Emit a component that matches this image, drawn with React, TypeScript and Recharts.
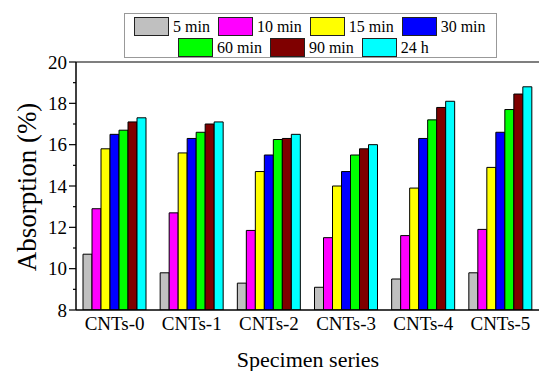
import React from 'react';
import { BarChart, Bar, XAxis, YAxis, ReferenceLine } from 'recharts';

const categories = ['CNTs-0', 'CNTs-1', 'CNTs-2', 'CNTs-3', 'CNTs-4', 'CNTs-5'];
const seriesNames = ['5 min', '10 min', '15 min', '30 min', '60 min', '90 min', '24 h'];
const seriesColors = ['#c0c0c0', '#ff00ff', '#ffff00', '#0000ff', '#00ff00', '#7f0000', '#00ffff'];

const min5 = [10.7, 9.8, 9.3, 9.1, 9.5, 9.8];
const min10 = [12.9, 12.7, 11.85, 11.5, 11.6, 11.9];
const min15 = [15.8, 15.6, 14.7, 14.0, 13.9, 14.9];
const min30 = [16.5, 16.3, 15.5, 14.7, 16.3, 16.6];
const min60 = [16.7, 16.6, 16.25, 15.5, 17.2, 17.7];
const min90 = [17.1, 17.0, 16.3, 15.8, 17.8, 18.45];
const h24 = [17.3, 17.1, 16.5, 16.0, 18.1, 18.8];

const yTicks = [8, 9, 10, 11, 12, 13, 14, 15, 16, 17, 18, 19, 20];

const allSeries = [min5, min10, min15, min30, min60, min90, h24];
const data = categories.map((name, i) => {
  const row: any = { name };
  seriesNames.forEach((s, j) => {
    row[s] = allSeries[j][i];
  });
  return row;
});

const FONT = 'Liberation Serif';

const YTick = ({ x, y, payload }: any) => {
  const major = payload.value % 2 === 0;
  return (
    <g>
      <line x1={x - (major ? 7 : 3)} x2={x} y1={y} y2={y} stroke="#000" strokeWidth={1.2} />
      {major && (
        <text
          x={x - 9}
          y={y}
          dy="0.35em"
          textAnchor="end"
          style={{ fontFamily: FONT, fontSize: 19 }}
          fill="#000"
        >
          {payload.value}
        </text>
      )}
    </g>
  );
};

// legend drawn as html over the chart so it doesn't eat plot space
const LegendBox = () => {
  const item = (i: number) => (
    <div key={i} style={{ display: 'flex', alignItems: 'center', marginRight: 8 }}>
      <div
        style={{
          width: 33,
          height: 17,
          background: seriesColors[i],
          border: '1.2px solid #222',
          marginRight: 4,
        }}
      />
      <span>{seriesNames[i]}</span>
    </div>
  );
  return (
    <div
      style={{
        position: 'absolute',
        left: 124,
        top: 13,
        width: 373,
        height: 45,
        boxSizing: 'border-box',
        border: '1px solid #999',
        background: '#fff',
        fontFamily: FONT,
        fontSize: 16,
        lineHeight: '18px',
        color: '#000',
        paddingTop: 2,
      }}
    >
      <div style={{ display: 'flex', paddingLeft: 9, height: 21 }}>{[0, 1, 2, 3].map(item)}</div>
      <div style={{ display: 'flex', paddingLeft: 53, height: 21 }}>{[4, 5, 6].map(item)}</div>
    </div>
  );
};

export default function App() {
  return (
    <div
      style={{
        position: 'absolute',
        left: 0,
        top: 0,
        width: 539,
        height: 371,
        background: '#fff',
        fontFamily: FONT,
      }}
    >
      <BarChart
        width={539}
        height={371}
        data={data}
        margin={{ top: 62, right: 0, bottom: 0, left: 0 }}
        barCategoryGap={7}
        barGap={0}
        style={{ fontFamily: FONT }}
      >
        <XAxis
          dataKey="name"
          height={61}
          tickLine={false}
          tickSize={0}
          tickMargin={7}
          axisLine={{ stroke: '#000', strokeWidth: 1.5 }}
          tick={{ fontFamily: FONT, fontSize: 19, fill: '#000' }}
          interval={0}
          label={{
            content: ({ viewBox }: any) => (
              <text
                x={308}
                y={viewBox.y + 57}
                textAnchor="middle"
                style={{ fontFamily: FONT, fontSize: 22 }}
                fill="#000"
              >
                Specimen series
              </text>
            ),
          }}
        />
        <YAxis
          width={76}
          domain={[8, 20]}
          ticks={yTicks}
          interval={0}
          tickLine={false}
          tickSize={0}
          tickMargin={0}
          tick={<YTick />}
          axisLine={{ stroke: '#000', strokeWidth: 1.5 }}
          allowDataOverflow
          label={{
            content: () => (
              <text
                x={36}
                y={187}
                transform="rotate(-90 36 187)"
                textAnchor="middle"
                style={{ fontFamily: FONT, fontSize: 27 }}
                fill="#000"
              >
                Absorption (%)
              </text>
            ),
          }}
        />
        <ReferenceLine y={20} stroke="#000" strokeWidth={1.2} />
        {seriesNames.map((s, j) => (
          <Bar
            key={s}
            dataKey={s}
            fill={seriesColors[j]}
            stroke="#000"
            strokeWidth={1}
            isAnimationActive={false}
          />
        ))}
      </BarChart>
      <LegendBox />
    </div>
  );
}
